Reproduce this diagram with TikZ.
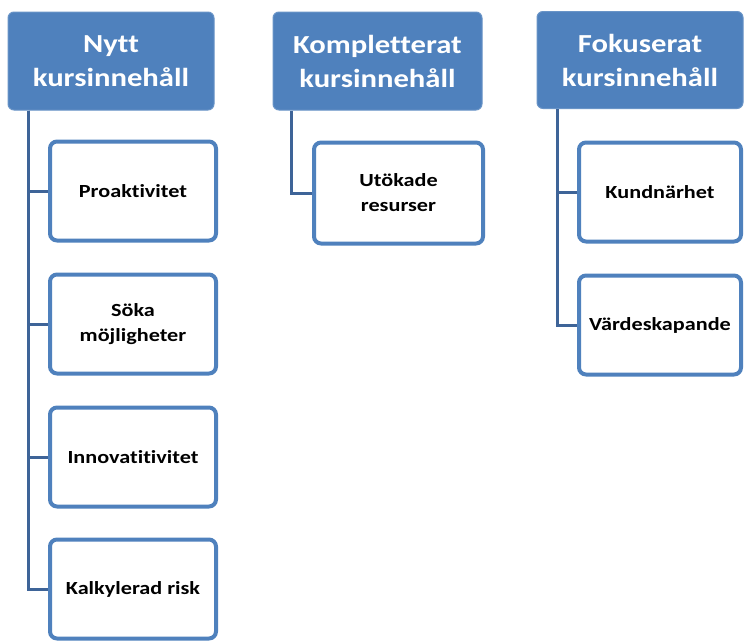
\documentclass[tikz,border=0pt]{standalone}
\usepackage{fontspec}
\setmainfont{Carlito}[Ligatures=NoCommon]
\newfontfamily\headfont{Carlito}[Ligatures=NoCommon, FakeStretch=1.18]
\newfontfamily\itemfont{Carlito}[Ligatures=NoCommon, FakeStretch=1.2]
\definecolor{hdrblue}{HTML}{4F81BD}
\definecolor{linkblue}{HTML}{3E6498}
\begin{document}
\begin{tikzpicture}[x=1pt,y=-1pt,
  header/.style={draw=hdrblue!85!white, line width=1pt, fill=hdrblue, rounded corners=6pt,
    text=white, font=\headfont\bfseries\fontsize{26}{34}\selectfont, align=center, inner sep=0pt},
  item/.style={draw=hdrblue, line width=4pt, fill=white, rounded corners=7pt,
    text=black, font=\itemfont\bfseries\fontsize{18.5}{25}\selectfont, align=center, inner sep=0pt},
  link/.style={draw=linkblue, line width=3pt}]
\useasboundingbox (0,0) rectangle (745,643);

% column heads
\node[header, minimum width=206pt, minimum height=98pt] (h1) at (111,61) {Nytt\\kursinnehåll};
\node[header, minimum width=209pt, minimum height=98pt] (h2) at (377.5,61) {Kompletterat\\kursinnehåll};
\node[header, minimum width=206pt, minimum height=97pt] (h3) at (640,60) {Fokuserat\\kursinnehåll};

% first column
\node[item, minimum width=166pt, minimum height=99pt] (a1) at (133,191) {Proaktivitet};
\node[item, minimum width=166pt, minimum height=99pt] (a2) at (133,324) {Söka\\möjligheter};
\node[item, minimum width=166pt, minimum height=99pt] (a3) at (133,457) {Innovatitivitet};
\node[item, minimum width=166pt, minimum height=99pt] (a4) at (133,589) {Kalkylerad risk};

% second column
\node[item, minimum width=169pt, minimum height=101pt] (b1) at (398.5,193) {Utökade\\resurser};

% third column
\node[item, minimum width=162pt, minimum height=99pt] (c1) at (660,192) {Kundnärhet};
\node[item, minimum width=162pt, minimum height=99pt] (c2) at (660,325) {Värdeskapande};

% connectors
\coordinate (s1) at ([xshift=21pt]h1.south west);
\coordinate (s2) at ([xshift=19pt]h2.south west);
\coordinate (s3) at ([xshift=21pt]h3.south west);
\foreach \t in {a1,a2,a3,a4} \draw[link] (s1) |- (\t.west);
\draw[link] (s2) |- (b1.west);
\foreach \t in {c1,c2} \draw[link] (s3) |- (\t.west);
\end{tikzpicture}
\end{document}
